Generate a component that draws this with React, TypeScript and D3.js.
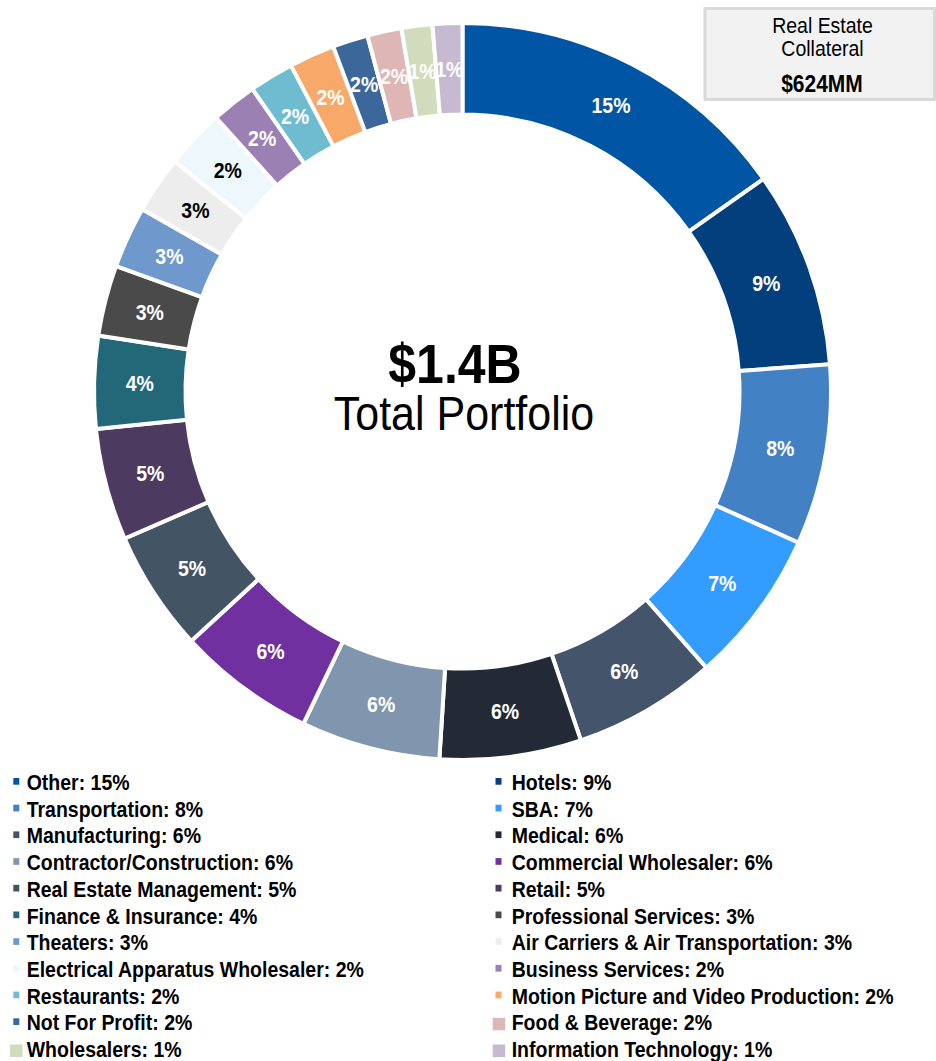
import React from "react";
import * as d3 from "d3";

// Categories in clockwise order from 12 o'clock
const categories = [
  "Other", "Hotels", "Transportation", "SBA", "Manufacturing", "Medical",
  "Contractor/Construction", "Commercial Wholesaler", "Real Estate Management", "Retail",
  "Finance & Insurance", "Professional Services", "Theaters", "Air Carriers & Air Transportation",
  "Electrical Apparatus Wholesaler", "Business Services", "Restaurants",
  "Motion Picture and Video Production", "Not For Profit", "Food & Beverage", "Wholesalers",
  "Information Technology",
];

// Slice shares
const shares = [
  15.2, 8.6, 7.9, 6.75, 6.3, 6.2, 6.1, 6.05, 5.3, 4.9, 4.05, 3.1, 2.7, 2.5, 2.6, 2.0, 1.95, 2.0,
  1.55, 1.5, 1.35, 1.3,
];

// Displayed (rounded) percentages
const labels = [15, 9, 8, 7, 6, 6, 6, 6, 5, 5, 4, 3, 3, 3, 2, 2, 2, 2, 2, 2, 1, 1];

const colors = [
  "#0055A4", "#023F7C", "#4281C4", "#339CFF", "#44556B", "#232A36", "#8096AF", "#7030A0",
  "#435464", "#4D3A60", "#236878", "#4A4A4A", "#6F99CC", "#EDEDED", "#EEF7FB", "#9A80B3",
  "#6FBCD0", "#F8A96A", "#3B679B", "#DEB6B6", "#D0DCBC", "#C5BAD0",
];

const bigMarkers = ["Food & Beverage", "Wholesalers", "Information Technology"];

const totalValue = "$1.4B";
const totalLabel = "Total Portfolio";
const boxLines = ["Real Estate", "Collateral"];
const boxValue = "$624MM";

const FONT = "'Liberation Sans', Arial, Helvetica, sans-serif";
const SY = 1.12;

function T({ x, y, size, bold, anchor = "start", fill = "#000", children }: any) {
  return (
    <text
      transform={`translate(${x},${y}) scale(1,${SY})`}
      fontSize={size}
      fontWeight={bold ? "bold" : "normal"}
      textAnchor={anchor}
      fill={fill}
      fontFamily={FONT}
    >
      {children}
    </text>
  );
}

export default function App() {
  const W = 936, H = 1061;
  const cx = 462.5, cy = 391.5;
  const outerR = 368.5, innerR = 277;

  const pie = d3.pie<number>().sort(null).value((d) => d).startAngle(0).endAngle(2 * Math.PI);
  const arcs = pie(shares);
  const arcGen = d3.arc<d3.PieArcDatum<number>>().innerRadius(innerR).outerRadius(outerR);
  const labelArc = d3.arc<d3.PieArcDatum<number>>().innerRadius(279).outerRadius(366.5);

  const rowY = d3.scaleLinear().domain([0, 1]).range([790, 816.7]);

  return (
    <svg width={W} height={H} style={{ position: "absolute", left: 0, top: 0 }}>
      <rect x={0} y={0} width={W} height={H} fill="#fff" />
      <g transform={`translate(${cx},${cy})`}>
        {arcs.map((a, i) => (
          <path key={i} d={arcGen(a) || ""} fill={colors[i]} stroke="#fff" strokeWidth={4} />
        ))}
        {arcs.map((a, i) => {
          const [lx, ly] = labelArc.centroid(a);
          const dark = d3.hsl(colors[i]).l > 0.85;
          return (
            <T key={i} x={lx} y={ly + 8} size={19.5} bold anchor="middle" fill={dark ? "#000" : "#fff"}>
              {labels[i]}%
            </T>
          );
        })}
      </g>

      <T x={455} y={383} size={50} bold anchor="middle">{totalValue}</T>
      <T x={464} y={430} size={43} anchor="middle">{totalLabel}</T>

      <rect x={705} y={8.5} width={229.5} height={91} fill="#F2F2F2" stroke="#D9D9D9" strokeWidth={3} />
      <T x={822.5} y={33} size={19.5} anchor="middle">{boxLines[0]}</T>
      <T x={822.5} y={56} size={19.5} anchor="middle">{boxLines[1]}</T>
      <T x={822} y={91.5} size={21} bold anchor="middle">{boxValue}</T>

      {categories.map((c, i) => {
        const col = i % 2;
        const row = Math.floor(i / 2);
        const y = rowY(row);
        const big = bigMarkers.includes(c);
        const mx = col === 0 ? (big ? 10 : 13.3) : big ? 492.7 : 495.5;
        const tx = col === 0 ? 26.7 : 511.7;
        return (
          <g key={c}>
            {big ? (
              <rect x={mx} y={y - 12.5} width={12.5} height={12.5} fill={colors[i]} />
            ) : (
              <rect x={mx} y={y - 12} width={6} height={6.7} fill={colors[i]} />
            )}
            <T x={tx} y={y} size={19.5} bold>
              {c}: {labels[i]}%
            </T>
          </g>
        );
      })}
    </svg>
  );
}
